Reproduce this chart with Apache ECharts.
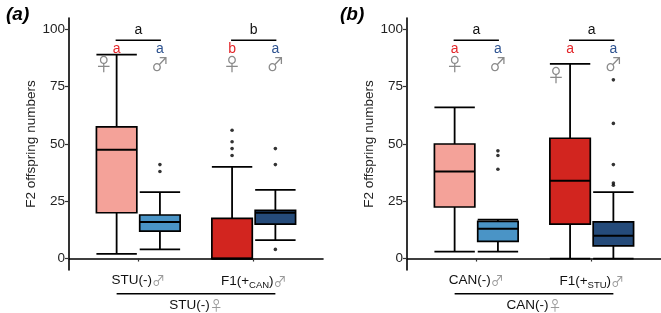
<!DOCTYPE html>
<html><head><meta charset="utf-8">
<script src="https://cdn.jsdelivr.net/npm/echarts@6/dist/echarts.min.js"></script>
<style>html,body{margin:0;padding:0;background:#fff}#c{width:661px;height:313px}</style>
</head><body><div id="c"></div>
<script>
// ---------- data ----------
const panelTitles = ['(a)', '(b)'];
const yAxisName = 'F2 offspring numbers';
const yTicks = [0, 25, 50, 75, 100];
const groupPositions = [1, 2];

const aMaleLabels = [['STU(-)', ''], ['F1(+', 'CAN', ')']];
const bMaleLabels = [['CAN(-)', ''], ['F1(+', 'STU', ')']];
const aFemaleGroupLabel = 'STU(-)';
const bFemaleGroupLabel = 'CAN(-)';

// box stats: [lower whisker, Q1, median, Q3, upper whisker]
const aFemaleStats = [[2, 20, 47.5, 57.5, 89], [0, 0, 0, 17.5, 40]];
const aMaleStats   = [[4, 12, 16, 19, 29], [8, 15, 20, 21, 30]];
const aFemaleOutliers = [[], [56, 51, 48, 45]];
const aMaleOutliers   = [[41, 38], [48, 41, 4]];

const bFemaleStats = [[3, 22.5, 38, 50, 66], [0, 15, 34, 52.5, 85]];
const bMaleStats   = [[3, 7.5, 13, 16.2, 17], [0, 5.5, 10, 16, 29]];
const bFemaleOutliers = [[], []];
const bMaleOutliers   = [[47, 45, 39], [78, 59, 41, 33, 32]];

// significance letters
const aGroupLetters = ['a', 'b'];
const aFemaleLetters = ['a', 'b'];
const aMaleLetters = ['a', 'a'];
const bGroupLetters = ['a', 'a'];
const bFemaleLetters = ['a', 'a'];
const bMaleLetters = ['a', 'a'];

// sex-symbol annotation anchor points (data coordinates)
const aFemaleSymbolAt = [[0.70, 85], [1.8125, 85]];
const aMaleSymbolAt   = [[1.1875, 85], [2.1875, 85]];
const bFemaleSymbolAt = [[0.8125, 85], [1.69, 80]];
const bMaleSymbolAt   = [[1.1875, 85], [2.1875, 85]];

// ---------- styling ----------
const FONT = '"Liberation Sans", Arial, sans-serif';
const SYMFONT = '"Noto Sans CJK JP", sans-serif';
const dodge = 0.1875, boxW = 0.35;
const femaleColors = ['#F4A299', '#D2251F'];
const maleColors = ['#4A94C6', '#254B7A'];
const letterRed = '#E3262A', letterBlue = '#2E5390', symGray = '#8A8A8A';

const grids = [
  {left: 69, top: 18, width: 254, height: 252},
  {left: 407, top: 18, width: 254, height: 252}
];

function makeAxes(i) {
  const labels = i === 0 ? aMaleLabels : bMaleLabels;
  return {
    x: {
      type: 'value', gridIndex: i, min: 0.4, max: 2.6,
      splitLine: {show: false},
      axisLine: {lineStyle: {color: '#000', width: 1.6}},
      axisTick: {show: true, customValues: groupPositions, length: 3, lineStyle: {color: '#333', width: 1.2}},
      axisLabel: {
        customValues: groupPositions, margin: 3,
        formatter: v => {
          const l = labels[Math.round(v) - 1];
          return l.length === 3 ? `{t|${l[0]}}{sub|${l[1]}}{t|${l[2]}}{s|♂}` : `{t|${l[0]}}{s|♂}`;
        },
        rich: {
          t: {fontFamily: FONT, fontSize: 13.5, color: '#111'},
          sub: {fontFamily: FONT, fontSize: 9.5, color: '#111', verticalAlign: 'bottom', padding: [7, 0, 0, 0]},
          s: {fontFamily: SYMFONT, fontSize: 13, color: '#999'}
        }
      }
    },
    y: {
      type: 'value', gridIndex: i, min: -5, max: 105,
      splitLine: {show: false},
      axisLine: {show: true, lineStyle: {color: '#000', width: 1.6}},
      axisTick: {show: true, customValues: yTicks, length: 4, lineStyle: {color: '#333', width: 1.2}},
      axisLabel: {customValues: yTicks, fontFamily: FONT, fontSize: 13.5, color: '#222', margin: 4},
      name: yAxisName, nameLocation: 'middle', nameGap: 31, nameRotate: 90,
      nameTextStyle: {fontFamily: FONT, fontSize: 13.5, color: '#222'}
    }
  };
}

function boxSeries(i, femaleStats, maleStats) {
  const data = [];
  groupPositions.forEach((g, k) => {
    data.push([g - dodge].concat(femaleStats[k], [0, k]));
    data.push([g + dodge].concat(maleStats[k], [1, k]));
  });
  return {
    type: 'custom', xAxisIndex: i, yAxisIndex: i, clip: false, z: 3,
    data: data,
    encode: {x: 0, y: [1, 2, 3, 4, 5]},
    renderItem: (params, api) => {
      const x = api.value(0), lo = api.value(1), q1 = api.value(2), md = api.value(3), q3 = api.value(4), hi = api.value(5);
      const sex = api.value(6), k = api.value(7);
      const fill = sex === 0 ? femaleColors[k] : maleColors[k];
      const pL = api.coord([x - boxW / 2, q3]), pR = api.coord([x + boxW / 2, q1]);
      const c = api.coord([x, md]);
      const pLo = api.coord([x, lo]), pHi = api.coord([x, hi]);
      const pQ1 = api.coord([x, q1]), pQ3 = api.coord([x, q3]);
      const ls = {stroke: '#000', lineWidth: 1.8};
      return {type: 'group', children: [
        {type: 'line', shape: {x1: pLo[0], y1: pLo[1], x2: pQ1[0], y2: pQ1[1]}, style: ls},
        {type: 'line', shape: {x1: pQ3[0], y1: pQ3[1], x2: pHi[0], y2: pHi[1]}, style: ls},
        {type: 'line', shape: {x1: pL[0], y1: pLo[1], x2: pR[0], y2: pLo[1]}, style: ls},
        {type: 'line', shape: {x1: pL[0], y1: pHi[1], x2: pR[0], y2: pHi[1]}, style: ls},
        {type: 'rect', shape: {x: pL[0], y: pL[1], width: pR[0] - pL[0], height: pR[1] - pL[1]},
          style: {fill: fill, stroke: '#000', lineWidth: 1.7}},
        {type: 'line', shape: {x1: pL[0], y1: c[1], x2: pR[0], y2: c[1]}, style: {stroke: '#000', lineWidth: 2}}
      ]};
    }
  };
}

function outlierSeries(i, fo, mo) {
  const data = [];
  groupPositions.forEach((g, k) => {
    fo[k].forEach(v => data.push([g - dodge, v]));
    mo[k].forEach(v => data.push([g + dodge, v]));
  });
  return {type: 'scatter', xAxisIndex: i, yAxisIndex: i, data: data, symbolSize: 3.6,
    itemStyle: {color: '#000'}, z: 4, silent: true};
}

function annotationSeries(i, groupLetters, fLetters, mLetters, fSym, mSym, femaleGroupLabel) {
  return {
    type: 'custom', xAxisIndex: i, yAxisIndex: i, clip: false, z: 5, silent: true,
    data: [[1, 100]],
    renderItem: (params, api) => {
      const ch = [];
      const txt = (p, s, color, size, fam) => ch.push({type: 'text', x: p[0], y: p[1],
        style: {text: s, fill: color, font: `${size}px ${fam || FONT}`, align: 'center', verticalAlign: 'middle'}});
      groupPositions.forEach((g, k) => {
        txt(api.coord([g, 99.8]), groupLetters[k], '#111', 14);
        const a = api.coord([g - dodge, 95.3]), b = api.coord([g + dodge, 95.3]);
        ch.push({type: 'line', shape: {x1: a[0] - 1, y1: a[1], x2: b[0] + 1, y2: b[1]}, style: {stroke: '#000', lineWidth: 1.6}});
        txt(api.coord([g - dodge, 91.6]), fLetters[k], letterRed, 14);
        txt(api.coord([g + dodge, 91.6]), mLetters[k], letterBlue, 14);
        txt(api.coord(fSym[k]), '♀', symGray, 18, SYMFONT);
        txt(api.coord(mSym[k]), '♂', symGray, 18, SYMFONT);
      });
      // female group bracket under the x labels
      const p1 = api.coord([groupPositions[0] - dodge, -5]);
      const p2 = api.coord([groupPositions[1] + dodge, -5]);
      const yl = p1[1] + 23.7;
      ch.push({type: 'line', shape: {x1: p1[0], y1: yl, x2: p2[0], y2: yl}, style: {stroke: '#000', lineWidth: 1.5}});
      ch.push({type: 'text', x: (p1[0] + p2[0]) / 2, y: p1[1] + 35.5, style: {
        text: `{t|${femaleGroupLabel}}{s|♀}`, align: 'center', verticalAlign: 'middle',
        rich: {t: {fontFamily: FONT, fontSize: 13.5, fill: '#111'}, s: {fontFamily: SYMFONT, fontSize: 13, fill: '#999'}}
      }});
      return {type: 'group', children: ch};
    }
  };
}

const axA = makeAxes(0), axB = makeAxes(1);
const option = {
  animation: false,
  backgroundColor: '#fff',
  title: [
    {text: panelTitles[0], left: 1, top: 0, textStyle: {fontFamily: FONT, fontSize: 19, fontWeight: 'bold', fontStyle: 'italic', color: '#000'}},
    {text: panelTitles[1], left: 335, top: 0, textStyle: {fontFamily: FONT, fontSize: 19, fontWeight: 'bold', fontStyle: 'italic', color: '#000'}}
  ],
  grid: grids,
  xAxis: [axA.x, axB.x],
  yAxis: [axA.y, axB.y],
  series: [
    boxSeries(0, aFemaleStats, aMaleStats),
    outlierSeries(0, aFemaleOutliers, aMaleOutliers),
    annotationSeries(0, aGroupLetters, aFemaleLetters, aMaleLetters, aFemaleSymbolAt, aMaleSymbolAt, aFemaleGroupLabel),
    boxSeries(1, bFemaleStats, bMaleStats),
    outlierSeries(1, bFemaleOutliers, bMaleOutliers),
    annotationSeries(1, bGroupLetters, bFemaleLetters, bMaleLetters, bFemaleSymbolAt, bMaleSymbolAt, bFemaleGroupLabel)
  ]
};
const chart = echarts.init(document.getElementById('c'), null, {renderer: 'canvas'});
chart.setOption(option);
</script></body></html>
